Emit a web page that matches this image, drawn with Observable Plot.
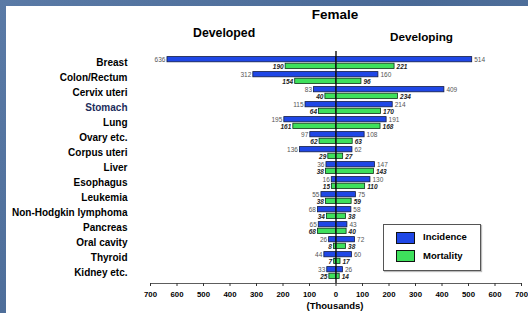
<!DOCTYPE html>
<html>
<head>
<meta charset="utf-8">
<script src="https://cdn.jsdelivr.net/npm/d3@7"></script>
<script src="https://cdn.jsdelivr.net/npm/@observablehq/plot@0.6"></script>
<style>
  html, body { margin: 0; padding: 0; }
  body { width: 528px; height: 313px; overflow: hidden; position: relative;
         background: linear-gradient(135deg, #5a7aa6 0%, #4a6a96 50%, #5677a3 100%);
         font-family: "Liberation Sans", Arial, sans-serif; }
  #panel { position: absolute; left: 6px; top: 6px; width: 522px; height: 307px; background: #fff; }
  #chart { position: absolute; left: 0; top: 0; }
  .t { position: absolute; font-weight: bold; color: #000; white-space: nowrap; }
  #legend { position: absolute; left: 383px; top: 224px; width: 96px; height: 45px;
            border: 1px solid #555; background: #fff; box-shadow: 1px 1px 1px #bbb; }
  .sw { position: absolute; left: 12px; width: 17px; height: 10px; border: 1px solid #111; }
  .lt { position: absolute; left: 39px; font-size: 9.5px; font-weight: bold; }
</style>
</head>
<body>
<div id="panel"></div>
<div id="chart"></div>
<div class="t" style="left:0;width:670px;text-align:center;top:7px;font-size:13.5px;">Female</div>
<div class="t" style="left:193px;top:26px;font-size:12.3px;">Developed</div>
<div class="t" style="left:390px;top:30px;font-size:11.7px;">Developing</div>
<div class="t" style="left:0;width:670px;text-align:center;top:300px;font-size:9.5px;">(Thousands)</div>
<div id="legend">
  <div class="sw" style="top:7px;background:#1f47e6;"></div>
  <div class="lt" style="top:6px;">Incidence</div>
  <div class="sw" style="top:25px;background:#3ee05c;"></div>
  <div class="lt" style="top:25px;">Mortality</div>
</div>
<script>
const categories = ["Breast","Colon/Rectum","Cervix uteri","Stomach","Lung","Ovary etc.","Corpus uteri","Liver","Esophagus","Leukemia","Non-Hodgkin lymphoma","Pancreas","Oral cavity","Thyroid","Kidney etc."];
const developedIncidence = [636,312,83,115,195,97,136,36,16,55,68,65,26,44,33];
const developedMortality = [190,154,40,64,161,62,29,38,15,38,34,68,8,7,25];
const developingIncidence = [514,160,409,214,191,108,62,147,130,75,58,43,72,60,26];
const developingMortality = [221,96,234,170,168,63,27,143,110,59,38,40,38,17,14];
const xTicks = [-700,-600,-500,-400,-300,-200,-100,0,100,200,300,400,500,600,700];

const inc = [], mort = [];
categories.forEach((c, i) => {
  inc.push({cat: c, side: "dev", v: -developedIncidence[i], label: developedIncidence[i]});
  inc.push({cat: c, side: "dvg", v: developingIncidence[i], label: developingIncidence[i]});
  mort.push({cat: c, side: "dev", v: -developedMortality[i], label: developedMortality[i]});
  mort.push({cat: c, side: "dvg", v: developingMortality[i], label: developingMortality[i]});
});
const labelData = categories.map(c => ({cat: c}));

const BLUE = "#1f47e6", GREEN = "#3ee05c";
const chart = Plot.plot({
  width: 528, height: 313,
  marginLeft: 150, marginRight: 7, marginTop: 51, marginBottom: 30,
  style: {background: "transparent", fontFamily: "Liberation Sans, Arial, sans-serif", color: "#000"},
  x: {domain: [-700, 700], ticks: xTicks, label: null},
  y: {domain: categories, padding: 0, axis: null, label: null},
  marks: [
    Plot.barX(inc, {y: "cat", x1: 0, x2: "v", fill: BLUE, stroke: "#111a44", strokeWidth: 0.8, insetTop: 1.6, insetBottom: 8.2}),
    Plot.barX(mort, {y: "cat", x1: 0, x2: "v", fill: GREEN, stroke: "#0f3318", strokeWidth: 0.8, insetTop: 8.2, insetBottom: 1.5}),
    Plot.ruleX([0], {stroke: "#111", strokeWidth: 1.4}),
    Plot.text(inc.filter(d => d.side === "dev"), {y: "cat", x: "v", text: "label", textAnchor: "end", dx: -2, dy: -3.4, fontSize: 6.5, fill: "#555"}),
    Plot.text(inc.filter(d => d.side === "dvg"), {y: "cat", x: "v", text: "label", textAnchor: "start", dx: 2, dy: -3.4, fontSize: 6.5, fill: "#555"}),
    Plot.text(mort.filter(d => d.side === "dev"), {y: "cat", x: "v", text: "label", textAnchor: "end", dx: -2, dy: 3.6, fontSize: 6.5, fill: "#222", fontWeight: "bold", fontStyle: "italic"}),
    Plot.text(mort.filter(d => d.side === "dvg"), {y: "cat", x: "v", text: "label", textAnchor: "start", dx: 2, dy: 3.6, fontSize: 6.5, fill: "#222", fontWeight: "bold", fontStyle: "italic"}),
    Plot.text(labelData, {y: "cat", text: "cat", frameAnchor: "left", textAnchor: "end", dx: -23, fontSize: 10, fontWeight: "bold",
      fill: d => d.cat === "Stomach" ? "#1c2d5c" : "#000"}),
    Plot.axisX({anchor: "bottom", ticks: xTicks, tickFormat: d => Math.abs(d), tickSize: 3, tickPadding: 5, fontSize: 7.8, fontWeight: "bold", fill: "#000", stroke: "#333", label: null}),
    Plot.frame({anchor: "bottom", stroke: "#333", strokeWidth: 0.8})
  ]
});
document.getElementById("chart").appendChild(chart);
</script>
</body>
</html>
